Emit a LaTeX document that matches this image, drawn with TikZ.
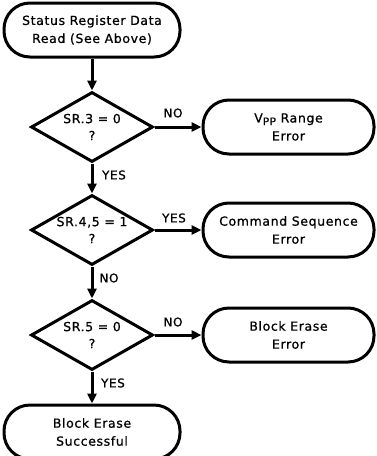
\documentclass[tikz,border=0pt]{standalone}
\usepackage{fontspec}
\setmainfont{DejaVu Sans}[LetterSpace=5, BoldFont={DejaVu Sans}, BoldFeatures={FakeBold=0.8}]
\usetikzlibrary{shapes.geometric,arrows.meta}

\tikzset{
	termbox/.style={draw, line width=3pt, rounded corners=26pt, minimum width=176pt, minimum height=54pt, inner sep=0pt, align=center, font=\fontsize{12.5}{18}\selectfont\bfseries},
	errbox/.style={termbox, minimum width=171pt},
	testbox/.style={draw, diamond, line width=3pt, minimum width=122pt, minimum height=70pt, inner sep=0pt, shape aspect=1.75, align=center, font=\fontsize{12.5}{17}\selectfont\bfseries},
	flow/.style={line width=3pt, -{Triangle[length=10pt,width=9pt]}},
	lbl/.style={font=\fontsize{12}{14}\selectfont\bfseries}
}

\begin{document}
\begin{tikzpicture}[x={(1pt,0)}, y={(0,-1pt)}]
	\clip (0,0) rectangle (376,456);
	% linke spalte, ablauf
	\node[termbox] (read) at (92,30) {Status Register Data\\Read (See Above)};
	\node[testbox] (sr3) at (92,127) {SR.3 = 0\\?};
	\node[testbox] (sr45) at (92,230) {SR.4,5 = 1\\?};
	\node[testbox] (sr5) at (92,335) {SR.5 = 0\\?};
	\node[termbox] (done) at (92,432) {Block Erase\\Successful};
	% rechte spalte, fehler
	\node[errbox] (vpperr) at (288.5,127) {V\raisebox{-.4ex}{\fontsize{10.5}{12}\selectfont PP} Range\\Error};
	\node[errbox] (seqerr) at (288.5,230) {Command Sequence\\Error};
	\node[errbox] (eraseerr) at (288.5,335) {Block Erase\\Error};
	% pfeile
	\draw[flow] (read) -- (sr3);
	\draw[flow] (sr3) -- (sr45);
	\draw[flow] (sr45) -- (sr5);
	\draw[flow] (sr5) -- (done);
	\draw[flow] (sr3) -- (vpperr);
	\draw[flow] (sr45) -- (seqerr);
	\draw[flow] (sr5) -- (eraseerr);
	% beschriftungen
	\node[lbl] (no3) at (173,113) {NO};
	\node[lbl] (yes3) at (114,175) {YES};
	\node[lbl] (yes45) at (174,218) {YES};
	\node[lbl] (no45) at (109,278) {NO};
	\node[lbl] (no5) at (173,322) {NO};
	\node[lbl] (yes5) at (113,383) {YES};
\end{tikzpicture}
\end{document}
